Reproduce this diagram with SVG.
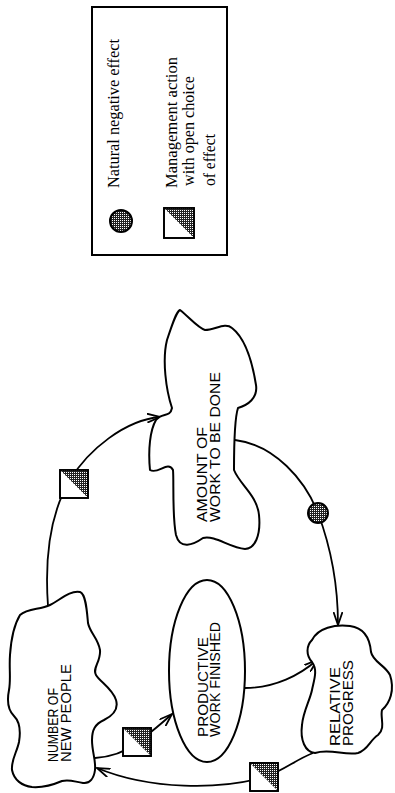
<svg xmlns="http://www.w3.org/2000/svg" width="395" height="793" viewBox="0 0 395 793">
<defs>
<style>
.outline{fill:#fff;stroke:#000;stroke-width:2;stroke-linejoin:round}
.conn{fill:none;stroke:#000;stroke-width:1.8}
.hand{font-family:"Liberation Sans",Arial,sans-serif;font-size:14px;fill:#000}
.leg{font-family:"Liberation Serif","Times New Roman",serif;font-size:16px;fill:#000}
.box{fill:#fff;stroke:#000;stroke-width:1.6}
.shade{fill:url(#stip);stroke:none}
</style>
<pattern id="stip" width="2" height="2" patternUnits="userSpaceOnUse">
<rect width="2" height="2" fill="#222"/>
<rect width="1" height="1" fill="#fff"/>
</pattern>
<marker id="arrow" viewBox="0 0 14 10" refX="13" refY="5" markerWidth="14" markerHeight="10" markerUnits="userSpaceOnUse" orient="auto">
<path d="M0,0.5 L13,5 L0,9.5" fill="none" stroke="#000" stroke-width="1.8"/>
</marker>
</defs>
<rect width="395" height="793" fill="#fff"/>

<g id="legend">
<rect x="92" y="7" width="135" height="248" fill="#fff" stroke="#000" stroke-width="2"/>
<circle cx="121" cy="221" r="11" fill="url(#stip)" stroke="#000" stroke-width="2"/>
<rect x="164" y="208" width="30" height="30" class="box"/>
<polygon points="164,208 194,208 194,238" class="shade"/>
<rect x="164" y="208" width="30" height="30" fill="none" stroke="#000" stroke-width="1.8"/>
<text class="leg" transform="translate(119,188) rotate(-90)" textLength="149" lengthAdjust="spacingAndGlyphs">Natural negative effect</text>
<text class="leg" transform="translate(177,188) rotate(-90)" textLength="131" lengthAdjust="spacingAndGlyphs">Management action</text>
<text class="leg" transform="translate(194,186) rotate(-90)" textLength="110" lengthAdjust="spacingAndGlyphs">with open choice</text>
<text class="leg" transform="translate(215,186) rotate(-90)" textLength="52" lengthAdjust="spacingAndGlyphs">of effect</text>
</g>

<g id="connectors">
<path class="conn" d="M48,606 C44,550 52,510 70,480 C88,450 125,420 160,417" marker-end="url(#arrow)"/>
<path class="conn" d="M235,440 C275,445 305,480 318,513 C330,545 338,580 338,625" marker-end="url(#arrow)"/>
<path class="conn" d="M245,688 C275,688 300,675 317,660" marker-end="url(#arrow)"/>
<path class="conn" d="M313,753 C295,760 285,770 265,777 C220,790 150,790 97,768" marker-end="url(#arrow)"/>
<path class="conn" d="M95,758 C110,757 125,752 137,743 C150,733 160,725 172,714" marker-end="url(#arrow)"/>
</g>

<g id="node-amount">
<path class="outline" d="M180,310 C190,318 198,328 205,330 C215,330 225,322 232,328 C245,338 252,360 256,385 C258,398 248,405 238,408 C234,420 234,450 234,470 C240,485 257,495 259,515 C261,535 255,549 245,549 C230,548 215,535 203,538 C193,545 180,550 176,535 C172,515 174,480 173,470 C168,460 158,475 150,470 C148,450 150,430 156,420 C162,412 170,418 172,408 C166,390 162,360 167,340 C172,325 176,312 180,310 Z"/>
<text class="hand" transform="translate(207,522) rotate(-90)" textLength="95" lengthAdjust="spacingAndGlyphs">AMOUNT OF</text>
<text class="hand" transform="translate(220,522) rotate(-90)" textLength="150" lengthAdjust="spacingAndGlyphs">WORK TO BE DONE</text>
</g>

<g id="node-people">
<path class="outline" d="M80,592 C86,594 87,612 88,623 C90,633 98,638 100,650 C101,662 92,668 96,675 C100,682 112,688 116,700 C119,710 112,716 104,720 C95,724 92,730 92,740 C92,752 96,760 95,770 C94,778 90,784 83,783 C75,782 70,779 62,781 C55,784 45,788 32,787 C22,786 14,780 12,770 C11,760 17,752 19,742 C21,730 20,722 14,716 C8,710 7,700 9,690 C11,680 9,668 10,655 C11,640 14,625 20,615 C28,608 40,610 50,605 C60,600 70,590 80,592 Z"/>
<text class="hand" transform="translate(58,762) rotate(-90)" textLength="74" lengthAdjust="spacingAndGlyphs">NUMBER OF</text>
<text class="hand" transform="translate(71,762) rotate(-90)" textLength="98" lengthAdjust="spacingAndGlyphs">NEW PEOPLE</text>
</g>

<g id="node-productive">
<ellipse class="outline" cx="207" cy="671" rx="38" ry="91"/>
<text class="hand" transform="translate(208,737) rotate(-90)" textLength="100" lengthAdjust="spacingAndGlyphs">PRODUCTIVE</text>
<text class="hand" transform="translate(220,737) rotate(-90)" textLength="115" lengthAdjust="spacingAndGlyphs">WORK FINISHED</text>
</g>

<g id="node-relative">
<path class="outline" d="M312,640 C318,628 335,624 350,626 C365,628 370,640 371,652 C373,662 385,665 390,675 C395,690 390,703 382,710 C380,718 386,728 378,735 C370,740 368,750 358,753 C345,756 330,748 315,753 C305,752 300,740 302,725 C303,712 310,700 312,690 C314,680 318,670 312,662 C306,655 306,646 312,640 Z"/>
<text class="hand" transform="translate(340,746) rotate(-90)" textLength="79" lengthAdjust="spacingAndGlyphs">RELATIVE</text>
<text class="hand" transform="translate(353,746) rotate(-90)" textLength="86" lengthAdjust="spacingAndGlyphs">PROGRESS</text>
</g>

<g id="effect-natural">
<circle cx="318" cy="513" r="10" fill="url(#stip)" stroke="#000" stroke-width="2"/>
</g>
<g id="action-1">
<rect x="60" y="470" width="28" height="28" class="box"/>
<polygon points="60,470 88,470 88,498" class="shade"/>
<rect x="60" y="470" width="28" height="28" fill="none" stroke="#000" stroke-width="1.8"/>
</g>
<g id="action-2">
<rect x="250" y="763" width="28" height="28" class="box"/>
<polygon points="250,763 278,763 278,791" class="shade"/>
<rect x="250" y="763" width="28" height="28" fill="none" stroke="#000" stroke-width="1.8"/>
</g>
<g id="action-3">
<rect x="123" y="728" width="28" height="28" class="box"/>
<polygon points="123,728 151,728 151,756" class="shade"/>
<rect x="123" y="728" width="28" height="28" fill="none" stroke="#000" stroke-width="1.8"/>
</g>
</svg>
